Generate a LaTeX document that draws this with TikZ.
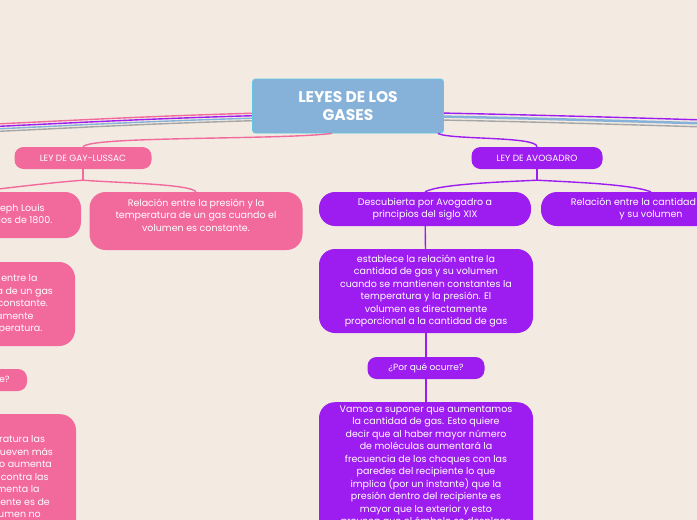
\documentclass[tikz,border=0pt]{standalone}
\usepackage{fontspec}
\setmainfont{Poppins}
\usepackage{tikz}
\definecolor{bgcream}{HTML}{F3EBE2}
\definecolor{titleblue}{HTML}{86B1D8}
\definecolor{gaypink}{HTML}{F26A9B}
\definecolor{avopurple}{HTML}{9D1CF0}
\tikzstyle{titlebox} = [draw=titleblue!70!cyan, thick, fill=titleblue, rectangle, rounded corners=3pt, text=white, font=\fontsize{15.5}{18}\selectfont\bfseries, align=center, minimum width=191pt, minimum height=54pt]
\tikzstyle{lawbox} = [rectangle, rounded corners=9pt, text=white, font=\fontsize{9}{12}\selectfont, align=center, minimum height=22pt]
\tikzstyle{infobox} = [rectangle, rounded corners=16pt, text=white, font=\fontsize{9.5}{12.5}\selectfont, align=center]
\tikzstyle{link} = [line width=1.4pt]
\begin{document}
\begin{tikzpicture}[x=1pt, y=-1pt]
\useasboundingbox (0,0) rectangle (697,520);
\clip (0,0) rectangle (697,520);
\fill[bgcream] (0,0) rectangle (697,520);

% lines leaving the title
\draw[gaypink, link] (260,113) .. controls (150,116) and (60,121) .. (-5,124);
\draw[avopurple, link] (260,115.5) .. controls (150,118.5) and (60,123.5) .. (-5,126.5);
\draw[titleblue, link] (260,118) .. controls (150,121) and (60,126) .. (-5,129);
\draw[gray!70, link] (260,120.5) .. controls (150,123.5) and (60,128.5) .. (-5,131.5);
\draw[avopurple, link] (440,113) .. controls (540,115) and (640,118) .. (705,120);
\draw[titleblue, line width=2.5pt] (440,116.5) .. controls (540,118.5) and (640,121.5) .. (705,123.5);
\draw[gray!70, link] (440,120) .. controls (540,122) and (640,125) .. (705,127);

\node[titlebox] (title) at (348,106) {LEYES DE LOS\\GASES};

% Gay-Lussac
\node[lawbox, fill=gaypink, minimum width=137pt] (gay) at (83,158) {LEY DE GAY-LUSSAC};
\node[infobox, fill=gaypink, minimum width=212pt, minimum height=46pt] (gayA) at (-25,215) {Descubierta por Joseph Louis\\Gay-Lussac a principios de 1800.};
\node[infobox, fill=gaypink, minimum width=213pt, minimum height=58pt, text depth=12pt] (gayB) at (196,221) {Relación entre la presión y la\\temperatura de un gas cuando el\\volumen es constante.};
\node[infobox, fill=gaypink, minimum width=212pt, minimum height=84pt] (gayC) at (-31,304) {Establece la relación entre la\\presión y la temperatura de un gas\\cuando el volumen es constante.\\La presión es directamente\\proporcional a la temperatura.};
\node[lawbox, fill=gaypink, minimum width=110pt] (gayD) at (-28,380) {¿Por qué ocurre?};
\node[infobox, fill=gaypink, minimum width=212pt, minimum height=140pt, anchor=north] (gayE) at (-30,414) {Al aumentar la temperatura las\\moléculas del gas se mueven más\\rápidamente y por tanto aumenta\\el número de choques contra las\\paredes, es decir aumenta la\\presión ya que el recipiente es de\\paredes fijas y su volumen no\\puede cambiar. Gay-Lussac};
\draw[gaypink, link] (title.south west) ++(80,0) .. controls (280,140) and (90,136) .. (gay.north);
\draw[gaypink, link] (gay.south) -- ++(0,11) coordinate (gayfork);
\draw[gaypink, link] (gayfork) .. controls (60,182) and (40,184) .. (gayA.north);
\draw[gaypink, link] (gayfork) .. controls (120,183) and (190,184) .. (gayB.north);
\draw[gaypink, link] (gayA) -- (gayC);
\draw[gaypink, link] (gayC) -- (gayD);
\draw[gaypink, link] (gayD) -- (gayE);

% Avogadro
\node[lawbox, fill=avopurple, minimum width=131pt] (avo) at (537,158) {LEY DE AVOGADRO};
\node[infobox, fill=avopurple, minimum width=212pt, minimum height=34pt] (avoA) at (425,209) {Descubierta por Avogadro a\\principios del siglo XIX};
\node[infobox, fill=avopurple, minimum width=220pt, minimum height=34pt] (avoB) at (651,209) {Relación entre la cantidad de gas\\y su volumen};
\node[infobox, fill=avopurple, minimum width=214pt, minimum height=84pt] (avoC) at (426,291) {establece la relación entre la\\cantidad de gas y su volumen\\cuando se mantienen constantes la\\temperatura y la presión. El\\volumen es directamente\\proporcional a la cantidad de gas};
\node[lawbox, fill=avopurple, minimum width=117pt] (avoD) at (426,368) {¿Por qué ocurre?};
\node[infobox, fill=avopurple, minimum width=214pt, minimum height=140pt, anchor=north, text depth=20pt] (avoE) at (426,402) {Vamos a suponer que aumentamos\\la cantidad de gas. Esto quiere\\decir que al haber mayor número\\de moléculas aumentará la\\frecuencia de los choques con las\\paredes del recipiente lo que\\implica (por un instante) que la\\presión dentro del recipiente es\\mayor que la exterior y esto\\provoca que el émbolo se desplace};
\draw[avopurple, link] (title.south east) ++(-6,0) .. controls (450,140) and (537,136) .. (avo.north);
\draw[avopurple, link] (avo.south) -- ++(0,11) coordinate (avofork);
\draw[avopurple, link] (avofork) .. controls (500,182) and (440,184) .. (avoA.north);
\draw[avopurple, link] (avofork) .. controls (570,182) and (630,184) .. (avoB.north);
\draw[avopurple, link] (avoA) -- (avoC);
\draw[avopurple, link] (avoC) -- (avoD);
\draw[avopurple, link] (avoD) -- (avoE);
\end{tikzpicture}
\end{document}
